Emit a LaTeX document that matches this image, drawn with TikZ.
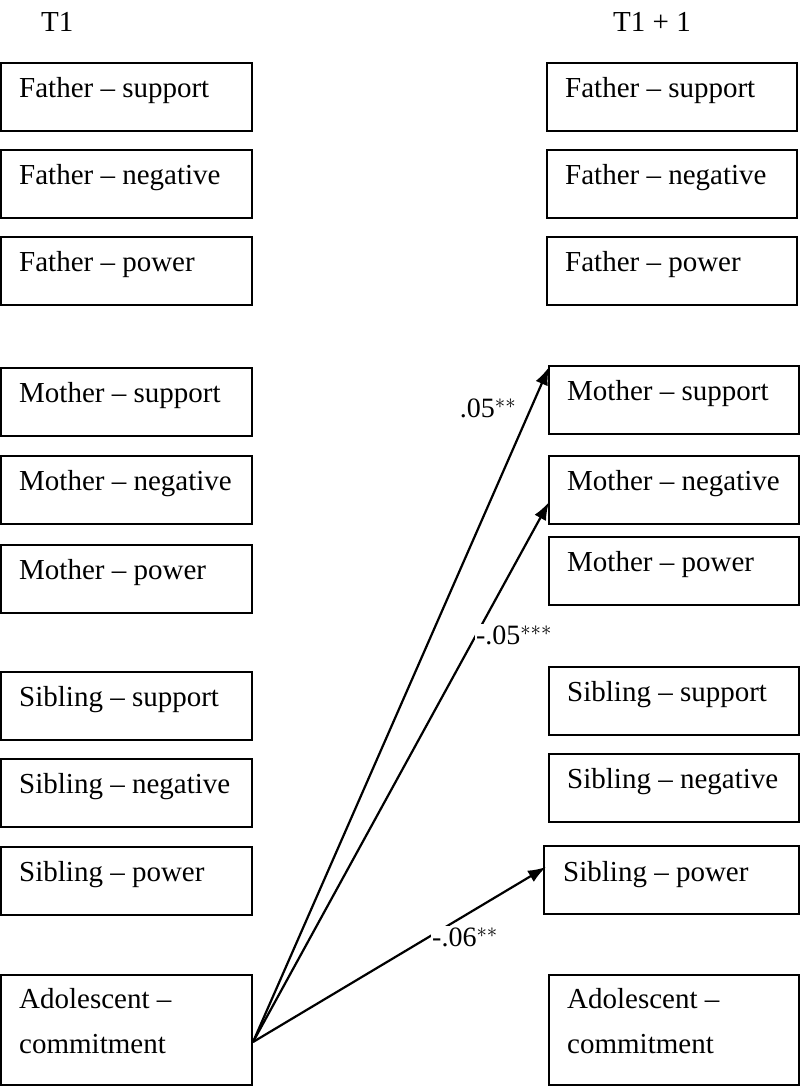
\documentclass[tikz,border=0pt]{standalone}
\usepackage{fontspec}
\setmainfont{Liberation Serif}
\usetikzlibrary{arrows.meta}
\begin{document}
\begin{tikzpicture}[x=1pt,y=-1pt,
 box/.style={draw,line width=2pt,anchor=north west,minimum width=#1,minimum height=68pt,inner sep=0pt,outer sep=0pt},
 box/.default=251pt,
 txt/.style={anchor=west,inner sep=0pt,font=\fontsize{29}{45}\selectfont},
 lab/.style={fill=white,inner sep=1pt,font=\fontsize{28}{32}\selectfont},
 arr/.style={line width=2.2pt,-{Latex[length=18pt,width=13pt]}}]
\useasboundingbox (0,0) rectangle (800,1087);
\node[txt] (h1) at (41,22) {T1};
\node[txt] (h2) at (613,22) {T1 + 1};
% left
\foreach \n/\y/\t in {lfs/63/Father -- support,lfn/150/Father -- negative,lfp/237/Father -- power,
 lms/368/Mother -- support,lmn/456/Mother -- negative,lmp/545/Mother -- power,
 lss/672/Sibling -- support,lsn/759/Sibling -- negative,lsp/847/Sibling -- power}{
 \node[box] (\n) at (1,\y) {};
 \node[txt] (\n t) at (19,\y+28) {\t};
}
\node[box,minimum height=110pt] (la) at (1,975) {};
\node[txt,align=left] (lat) at (19,1021) {Adolescent --\\commitment};
% right
\foreach \n/\x/\y/\t in {rfs/547/63/Father -- support,rfn/547/150/Father -- negative,rfp/547/237/Father -- power,
 rms/549/366/Mother -- support,rmn/549/456/Mother -- negative,rmp/549/537/Mother -- power,
 rss/549/667/Sibling -- support,rsn/549/754/Sibling -- negative}{
 \node[box=250pt] (\n) at (\x,\y) {};
 \node[txt] (\n t) at (\x+18,\y+28) {\t};
}
\node[box=255pt] (rsp) at (544,846) {};
\node[txt] (rspt) at (563,875) {Sibling -- power};
\node[box=250pt,minimum height=110pt] (ra) at (549,975) {};
\node[txt,align=left] (rat) at (567,1021) {Adolescent --\\commitment};
% arrows
\coordinate (o) at (253,1042);
\coordinate (t1) at (549,367);
\coordinate (t2) at (549,502);
\coordinate (t3) at (546,867);
\draw[arr] (o) -- (t1);
\draw[arr] (o) -- (t2);
\draw[arr] (o) -- (t3);
\node[lab] (l1) at (488,408) {.05$^{**}$};
\node[lab] (l2) at (514,635) {-.05$^{***}$};
\node[lab] (l3) at (465,937) {-.06$^{**}$};
\end{tikzpicture}
\end{document}
